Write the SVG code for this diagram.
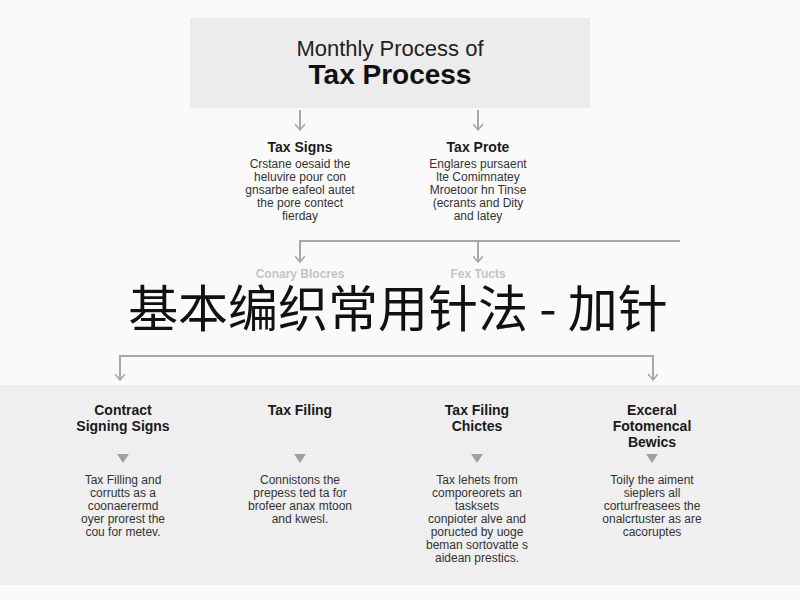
<svg xmlns="http://www.w3.org/2000/svg" width="800" height="600" viewBox="0 0 800 600">
<defs>
<style>
.h{font-family:"Liberation Sans",Arial,sans-serif;font-weight:bold;font-size:14px;fill:#1a1a1a;text-anchor:middle}
.b{font-family:"Liberation Sans",Arial,sans-serif;font-size:12px;fill:#333;text-anchor:middle}
.f{font-family:"Liberation Sans",Arial,sans-serif;font-size:12px;fill:#c4c4c4;text-anchor:middle;font-weight:bold}
.ln{stroke:#a8a8a8;stroke-width:2;fill:none}
</style>
<marker id="ar" viewBox="0 0 10 10" refX="9" refY="5" markerWidth="10" markerHeight="10" orient="auto-start-reverse" markerUnits="userSpaceOnUse"><path d="M3,0 L9,5 L3,10" fill="none" stroke="#a8a8a8" stroke-width="1.6"/></marker>
</defs>
<rect width="800" height="600" fill="#fafafa"/>
<rect x="0" y="385" width="800" height="200" fill="#efefef"/>
<g id="title">
<rect x="190" y="18" width="400" height="90" fill="#ececec"/>
<text x="390" y="56" font-family="Liberation Sans,Arial,sans-serif" font-size="22" fill="#222" text-anchor="middle">Monthly Process of</text>
<text x="390" y="84" font-family="Liberation Sans,Arial,sans-serif" font-size="28" font-weight="bold" fill="#111" text-anchor="middle">Tax Process</text>
</g>
<g id="connectors">
<line class="ln" x1="300" y1="110" x2="300" y2="130" marker-end="url(#ar)"/>
<line class="ln" x1="478" y1="110" x2="478" y2="130" marker-end="url(#ar)"/>
<path class="ln" d="M680,241 H300 V262" marker-end="url(#ar)"/>
<line class="ln" x1="478" y1="241" x2="478" y2="262" marker-end="url(#ar)"/>
<path class="ln" d="M120,380 V356 H653 V380" marker-start="url(#ar)" marker-end="url(#ar)"/>
<path d="M117,454 h12 l-6,9z M294,454 h12 l-6,9z M471,454 h12 l-6,9z M646,454 h12 l-6,9z" fill="#a0a0a0"/>
</g>
<g id="tax-signs">
<text class="h" x="300" y="152">Tax Signs</text>
<text class="b" x="300" y="168">Crstane oesaid the</text>
<text class="b" x="300" y="181">heluvire pour con</text>
<text class="b" x="300" y="194">gnsarbe eafeol autet</text>
<text class="b" x="300" y="207">the pore contect</text>
<text class="b" x="300" y="220">fierday</text>
</g>
<g id="tax-prote">
<text class="h" x="478" y="152">Tax Prote</text>
<text class="b" x="478" y="168">Englares pursaent</text>
<text class="b" x="478" y="181">lte Comimnatey</text>
<text class="b" x="478" y="194">Mroetoor hn Tinse</text>
<text class="b" x="478" y="207">(ecrants and Dity</text>
<text class="b" x="478" y="220">and latey</text>
</g>
<g id="faded">
<text class="f" x="300" y="278">Conary Blocres</text>
<text class="f" x="478" y="278">Fex Tucts</text>
</g>
<g id="banner">
<text x="398" y="327" font-family="Noto Sans CJK SC,sans-serif" font-size="50" fill="#111" text-anchor="middle">基本编织常用针法 - 加针</text>
</g>
<g id="n1">
<text class="h" x="123" y="415">Contract</text>
<text class="h" x="123" y="431">Signing Signs</text>
<text class="b" x="123" y="484">Tax Filling and</text>
<text class="b" x="123" y="497">corrutts as a</text>
<text class="b" x="123" y="510">coonaerermd</text>
<text class="b" x="123" y="523">oyer prorest the</text>
<text class="b" x="123" y="536">cou for metev.</text>
</g>
<g id="n2">
<text class="h" x="300" y="415">Tax Filing</text>
<text class="b" x="300" y="484">Connistons the</text>
<text class="b" x="300" y="497">prepess ted ta for</text>
<text class="b" x="300" y="510">brofeer anax mtoon</text>
<text class="b" x="300" y="523">and kwesl.</text>
</g>
<g id="n3">
<text class="h" x="477" y="415">Tax Filing</text>
<text class="h" x="477" y="431">Chictes</text>
<text class="b" x="477" y="484">Tax lehets from</text>
<text class="b" x="477" y="497">comporeorets an</text>
<text class="b" x="477" y="510">tasksets</text>
<text class="b" x="477" y="523">conpioter alve and</text>
<text class="b" x="477" y="536">poructed by uoge</text>
<text class="b" x="477" y="549">beman sortovatte s</text>
<text class="b" x="477" y="562">aidean prestics.</text>
</g>
<g id="n4">
<text class="h" x="652" y="415">Exceral</text>
<text class="h" x="652" y="431">Fotomencal</text>
<text class="h" x="652" y="447">Bewics</text>
<text class="b" x="652" y="484">Toily the aiment</text>
<text class="b" x="652" y="497">sieplers all</text>
<text class="b" x="652" y="510">corturfreasees the</text>
<text class="b" x="652" y="523">onalcrtuster as are</text>
<text class="b" x="652" y="536">cacoruptes</text>
</g>
</svg>
